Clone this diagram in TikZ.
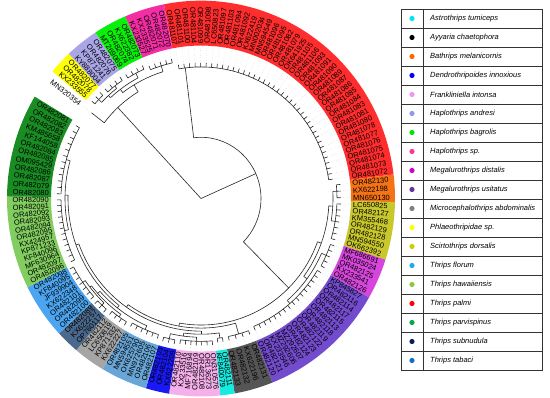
\documentclass[tikz,border=0pt]{standalone}
\usepackage{fontspec}
\setmainfont{Liberation Sans}
\usetikzlibrary{calc}
% band colours
\definecolor{cRed}{RGB}{255,45,45}
\definecolor{cOrange}{RGB}{245,115,20}
\definecolor{cOlive}{RGB}{200,200,45}
\definecolor{cMag}{RGB}{215,70,220}
\definecolor{cPurp}{RGB}{115,75,205}
\definecolor{cDkgray}{RGB}{85,85,85}
\definecolor{cCyan}{RGB}{20,235,225}
\definecolor{cLtpink}{RGB}{245,175,235}
\definecolor{cBlue}{RGB}{25,25,245}
\definecolor{cSteel}{RGB}{105,165,215}
\definecolor{cGray}{RGB}{165,165,165}
\definecolor{cSlate}{RGB}{75,105,140}
\definecolor{cBrblue}{RGB}{75,165,240}
\definecolor{cLtgreen}{RGB}{130,205,95}
\definecolor{cDkgreen}{RGB}{25,140,35}
\definecolor{cYellow}{RGB}{255,255,10}
\definecolor{cLav}{RGB}{170,165,230}
\definecolor{cGreen}{RGB}{10,240,10}
\definecolor{cHsp}{RGB}{245,45,165}
% legend dot colours
\definecolor{dAst}{RGB}{0,230,240}
\definecolor{dAyy}{RGB}{0,0,0}
\definecolor{dBat}{RGB}{255,102,0}
\definecolor{dDen}{RGB}{0,0,255}
\definecolor{dFra}{RGB}{240,150,240}
\definecolor{dHan}{RGB}{150,150,240}
\definecolor{dHba}{RGB}{0,230,0}
\definecolor{dHsp}{RGB}{255,51,153}
\definecolor{dMdi}{RGB}{204,0,204}
\definecolor{dMus}{RGB}{102,51,153}
\definecolor{dMic}{RGB}{128,128,128}
\definecolor{dPhl}{RGB}{255,255,0}
\definecolor{dSci}{RGB}{204,204,0}
\definecolor{dTfl}{RGB}{30,170,240}
\definecolor{dTha}{RGB}{140,200,70}
\definecolor{dTpa}{RGB}{255,0,0}
\definecolor{dTpv}{RGB}{0,170,70}
\definecolor{dTsu}{RGB}{10,30,90}
\definecolor{dTta}{RGB}{20,110,200}
\tikzset{
  treeline/.style={draw=black!85, line width=0.6pt},
  leader/.style={draw=black!22, dotted, line width=0.4pt},
  leaflab/.style={font=\fontsize{7.5}{8}\selectfont, inner sep=0pt},
  legline/.style={draw=black!80, line width=0.7pt},
  legtext/.style={font=\fontsize{7.5}{9}\selectfont\itshape, anchor=west, inner sep=0pt},
}
\def\rin{150}
\def\rout{194}
\pgfmathsetmacro\rlab{\rin+2}
% internal node: name, angle, parent radius, radius, arc from, arc to
\newcommand\inode[6]{%
  \coordinate (#1-in) at ($(C)+(#2:#3 pt)$);
  \coordinate (#1) at ($(C)+(#2:#4 pt)$);
  \coordinate (#1-a) at ($(C)+(#5:#4 pt)$);
  \draw[treeline] (#1-in) -- (#1);
  \draw[treeline] (#1-a) arc[start angle=#5, end angle=#6, radius=#4 pt];
}
% clade: name, start, end, n, colour, rnode, rparent, connect angle, labels
\newcommand\mkclade[9]{%
  \fill[#5] ($(C)+(#2:\rin pt)$) arc[start angle=#2, end angle=#3, radius=\rin pt]
     -- ($(C)+(#3:\rout pt)$) arc[start angle=#3, end angle=#2, radius=\rout pt] -- cycle;
  \pgfmathsetmacro\cst{(#3-#2)/#4}
  \pgfmathsetmacro\rtip{#6+4}
  \foreach \lab [count=\k] in {#9} {
    \pgfmathsetmacro\ang{#2+(\k-0.5)*\cst}
    \pgfmathsetmacro\amod{mod(\ang+720,360)}
    \coordinate (#1b\k) at ($(C)+(\ang:#6 pt)$);
    \coordinate (#1t\k) at ($(C)+(\ang:\rtip pt)$);
    \coordinate (#1e\k) at ($(C)+(\ang:\rin pt)$);
    \draw[treeline] (#1b\k) -- (#1t\k);
    \draw[leader] (#1t\k) -- (#1e\k);
    \pgfmathparse{((\amod>90)&&(\amod<270))?1:0}
    \ifdim\pgfmathresult pt>0.5pt
      \pgfmathsetmacro\rot{\ang+180}
      \node[leaflab, anchor=east, rotate=\rot] (#1\k) at ($(C)+(\ang:\rlab pt)$) {\lab};
    \else
      \node[leaflab, anchor=west, rotate=\ang] (#1\k) at ($(C)+(\ang:\rlab pt)$) {\lab};
    \fi
  }
  \pgfmathsetmacro\afirst{#2+0.5*\cst}
  \pgfmathsetmacro\alast{#3-0.5*\cst}
  \coordinate (#1) at ($(C)+(#8:#6 pt)$);
  \coordinate (#1-in) at ($(C)+(#8:#7 pt)$);
  \coordinate (#1-a) at ($(C)+(\afirst:#6 pt)$);
  \draw[treeline] (#1-in) -- (#1);
  \draw[treeline] (#1-a) arc[start angle=\afirst, end angle=\alast, radius=#6 pt];
}
\begin{document}
\begin{tikzpicture}[x=1pt,y=1pt]
\useasboundingbox (0,0) rectangle (550,398);
\fill[white] (0,0) rectangle (550,398);
\begin{scope}[yscale=1.02]
\coordinate (C) at (201,195.5);
\coordinate (R) at (C);
% ---- Thripidae side
\inode{X}{24}{0}{60}{97}{-45}
\mkclade{red}{7}{101}{39}{cRed}{129}{60}{97}{OR481072,OR481073,OR481074,OR481075,OR481076,OR481077,OR481078,OR481080,OR481081,OR481083,OR481084,OR481085,OR481086,OR481087,OR481089,OR481090,OR481091,OR481093,OR481106,OR481105,OK641925,OR481079,OR481082,OR481095,OR481096,MN594549,MN002034,KX622419,OR481092,OR481094,OR481103,OR481097,LC650823,OR481098,OR481099,OR481104,OR481100,OR481101,OR481107}
\inode{Y}{-45}{60}{124}{-20}{-100}
\inode{A}{-20}{124}{128}{-3.25}{-36.6}
\inode{Aa}{-3.25}{128}{132}{3}{-9.5}
\mkclade{orange}{-1}{7}{3}{cOrange}{136}{132}{3}{MN650130,KX622198,OR482130}
\mkclade{olive}{-18}{-1}{7}{cOlive}{136}{132}{-9.5}{OK662392,MN594550,OR482128,OR482129,KM355468,OR482127,LC650825}
\inode{Ab}{-36.6}{128}{132}{-24}{-49.2}
\mkclade{mag}{-30}{-18}{5}{cMag}{137}{132}{-24}{OR482126,KX233541,OR482125,MK035024,MF686691}
\mkclade{purp}{-68.4}{-30}{16}{cPurp}{136}{132}{-49.2}{OR482120,OR482121,KX233546,MZ292606,MZ292607,OR482124,OR482123,OR482122,OR482119,OR482118,OR482113,OR482115,OR482117,OR482114,OR482116,KP845827}
\inode{B}{-100}{124}{127}{-74.2}{-125}
\mkclade{dkgray}{280}{291.6}{4}{cDkgray}{138}{127}{285.8}{OR482133,OR482132,KX622196,OR482131}
\inode{Bb}{235}{127}{130}{270}{200}
\inode{Bc}{270}{130}{133}{277.85}{262.55}
\mkclade{cyan}{275.7}{280}{2}{cCyan}{138}{133}{277.85}{KF840079,OR482111}
\inode{Bd}{262.55}{133}{136}{268.1}{257}
\mkclade{ltpink}{260.5}{275.7}{7}{cLtpink}{140}{136}{268.1}{OR482110,KX233516,MF716894,OR482109,OR482108,OR136273,ON310576}
\mkclade{blue}{253.5}{260.5}{3}{cBlue}{141}{136}{257}{OR482103,OR482104,KX622209}
\inode{Be}{200}{130}{133}{232}{178.6}
\inode{Bf}{232}{133}{136}{246.5}{222}
\mkclade{steel}{239.5}{253.5}{6}{cSteel}{140}{136}{246.5}{OR482105,MN594551,OK625790,MN972605,OR482106,OR482107}
\inode{Bg}{222}{136}{139}{234.75}{218}
\mkclade{gray}{230}{239.5}{4}{cGray}{142}{139}{234.75}{OR482112,LC650819,KP871332,KX622227}
\inode{Bh}{218}{139}{141}{226.5}{214.8}
\mkclade{slate}{223}{230}{3}{cSlate}{144}{141}{226.5}{OR482089,KX622257,OP760117}
\mkclade{brblue}{206.6}{223}{7}{cBrblue}{144}{141}{214.8}{OR482098,KF840095,JF939904,KX622348,OR482101,OR482099,OR482100}
\inode{Bi}{178.6}{133}{136}{193}{164.2}
\mkclade{ltgreen}{179.4}{206.6}{12}{cLtgreen}{140}{136}{193}{OR482090,OR482091,OR482092,OR482093,OR482094,OR482095,KX424957,KP871233,KF840096,MF630964,OR482097,OR482096}
\mkclade{dkgreen}{149}{179.4}{12}{cDkgreen}{140}{136}{164.2}{OR482081,OR482082,OR482083,KM485658,KF144058,OR482084,OR482085,OM095429,OR482086,OR482087,OR482079,OR482080}
% ---- Phlaeothripidae side
\inode{T}{133}{0}{122}{121}{142.5}
\mkclade{mn}{140}{145}{1}{white}{134}{122}{142.5}{MN320354}
\inode{H}{121}{122}{130}{107}{127}
\mkclade{hsp}{101}{113}{5}{cHsp}{136}{130}{107}{OR482070,OR482072,OR482071,KX233525,KX233527}
\inode{Ha}{127}{130}{134}{118}{132.5}
\mkclade{hba}{113}{123}{4}{cGreen}{139}{134}{118}{OR482073,KX622382,OR482074,MT269069}
\inode{Hb}{132.5}{134}{137}{128}{136.5}
\mkclade{han}{123}{133}{4}{cLav}{140}{137}{128}{OR482075,OR482076,KP871241,KY888004}
\mkclade{phl}{133}{140}{3}{cYellow}{141}{137}{136.5}{OR482077,OR482078,KX233555}
\end{scope}
% ---- legend
\foreach \nm/\col [count=\i] in {Astrothrips tumiceps/dAst,Ayyaria chaetophora/dAyy,Bathrips melanicornis/dBat,Dendrothripoides innoxious/dDen,Frankliniella intonsa/dFra,Haplothrips andresi/dHan,Haplothrips bagrolis/dHba,Haplothrips sp./dHsp,Megalurothrips distalis/dMdi,Megalurothrips usitatus/dMus,Microcephalothrips abdominalis/dMic,Phlaeothripidae sp./dPhl,Scirtothrips dorsalis/dSci,Thrips florum/dTfl,Thrips hawaiiensis/dTha,Thrips palmi/dTpa,Thrips parvispinus/dTpv,Thrips subnudula/dTsu,Thrips tabaci/dTta} {
  \pgfmathsetmacro\yc{389-19*(\i-1)-9.5}
  \node[legtext] (leg\i) at (430,\yc) {\nm};
  \fill[\col] (412,\yc) circle (2.6pt);
}
\draw[legline] (401,28) rectangle (542,389);
\draw[legline] (423,28) -- (423,389);
\foreach \i in {1,...,18} { \draw[legline] (401,389-19*\i) -- (542,389-19*\i); }
\end{tikzpicture}
\end{document}
